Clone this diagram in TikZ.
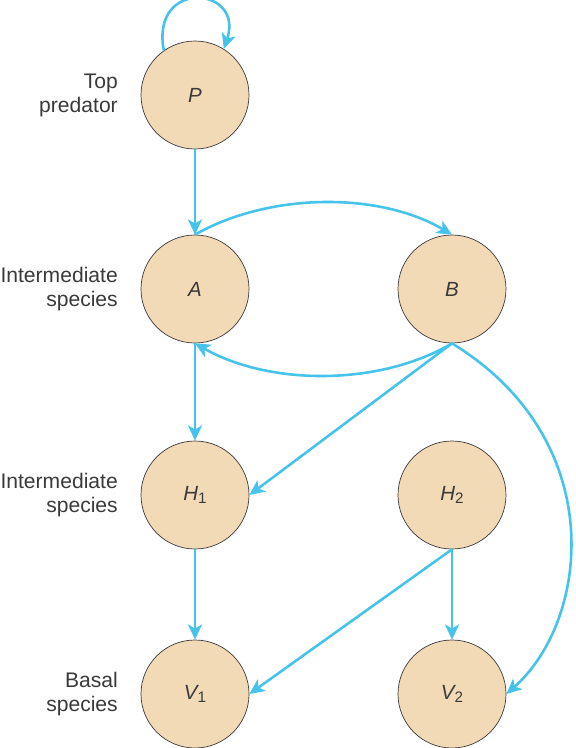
\documentclass[tikz,border=0pt]{standalone}
\usepackage{fontspec}
\setmainfont{Liberation Sans}
\usetikzlibrary{arrows.meta}
\definecolor{tan}{HTML}{F3DAB7}
\definecolor{link}{HTML}{45C3EA}
\definecolor{ink}{HTML}{3A3A3A}
\begin{document}
\begin{tikzpicture}[x=0.03cm,y=0.03cm,
  species/.style={circle,draw=ink,line width=0.6pt,fill=tan,minimum size=3.24cm,inner sep=0pt,
    font=\fontsize{17.5}{20}\selectfont\itshape,text=ink},
  level/.style={anchor=east,align=right,inner sep=0pt,font=\fontsize{18}{20.4}\selectfont,text=ink},
  feed/.style={draw=link,line width=2.2pt,-{Stealth[length=13pt,width=12pt,inset=3.5pt]}}]
\useasboundingbox (0,0) rectangle (575,-748);
% species
\node[species] (P)  at (195,-95)  {P};
\node[species] (A)  at (195,-289) {A};
\node[species] (B)  at (452,-289) {B};
\node[species] (H1) at (195,-495) {H\raisebox{-0.35ex}{\upshape\fontsize{13}{13}\selectfont 1}};
\node[species] (H2) at (452,-495) {H\raisebox{-0.35ex}{\upshape\fontsize{13}{13}\selectfont 2}};
\node[species] (V1) at (195,-694) {V\raisebox{-0.35ex}{\upshape\fontsize{13}{13}\selectfont 1}};
\node[species] (V2) at (452,-694) {V\raisebox{-0.35ex}{\upshape\fontsize{13}{13}\selectfont 2}};
% trophic levels
\node[level] (lP) at (118,-95)  {Top\\predator};
\node[level] (lA) at (118,-289) {Intermediate\\species};
\node[level] (lH) at (118,-495) {Intermediate\\species};
\node[level] (lV) at (118,-694) {Basal\\species};
% feeding links
\draw[feed] (P.125) .. controls (150,22) and (245,14) .. (P.58);
\draw[feed] (P.south) -- (A.north);
\draw[feed] (A.north) .. controls (270,-192) and (380,-192) .. (B.north);
\draw[feed] (B.south) .. controls (380,-386) and (270,-386) .. (A.south);
\draw[feed] (A.south) -- (H1.north);
\draw[feed] (B.south) -- (H1.east);
\draw[feed] (B.south) .. controls (610,-440) and (590,-620) .. (V2.east);
\draw[feed] (H1.south) -- (V1.north);
\draw[feed] (H2.south) -- (V1.east);
\draw[feed] (H2.south) -- (V2.north);
\end{tikzpicture}
\end{document}
